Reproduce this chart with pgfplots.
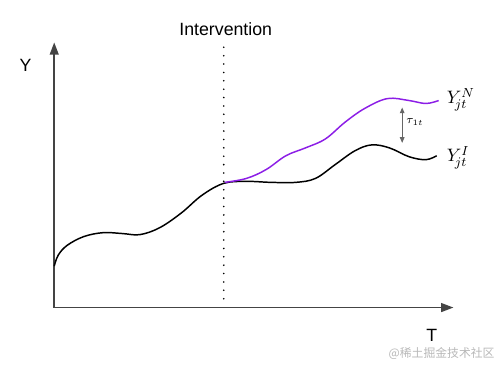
\documentclass[border=0pt]{standalone}
\usepackage{pgfplots}
\pgfplotsset{compat=1.18}
\usetikzlibrary{arrows.meta}
\usepackage{fontspec}
\setmainfont{Liberation Sans}
\newfontfamily\cjk{Noto Sans CJK SC}
\definecolor{axgray}{HTML}{444444}
\definecolor{violetline}{RGB}{140,30,230}
\begin{document}
\begin{tikzpicture}
\begin{axis}[
  scale only axis, width=300pt, height=221.4pt,
  xmin=0, xmax=500, ymin=0, ymax=369,
  hide axis, clip=false,
]
\path (axis cs:0,0) rectangle (axis cs:500,369);
% axes
\addplot[axgray, line width=1pt, -{Triangle[length=7.5pt,width=5.4pt]}] coordinates {(55,57) (55,326)};
\addplot[axgray, line width=1pt, -{Triangle[length=7.5pt,width=5.4pt]}] coordinates {(55,57) (460,57)};
% intervention line
\addplot[black, line width=1.1pt, line cap=round, dash pattern=on 0pt off 5.1pt] coordinates {(227,66) (227,322)};
% observed (black)
\addplot[black, line width=0.9pt, smooth, tension=0.6] coordinates {
(55,99) (59,110) (68,120) (85,129) (105,133) (125,132) (142,131)
(162,138) (184,153) (205,171) (227,183) (250,185) (275,184) (300,184)
(320,188) (340,202) (360,216) (377,222) (395,219) (415,210) (432,207) (443,211)};
% counterfactual (violet)
\addplot[violetline, line width=0.9pt, smooth, tension=0.6] coordinates {
(228,184) (250,188) (270,197) (290,211) (310,219) (330,228) (350,245)
(370,259) (393,269) (415,267) (432,264) (445,267)};
% tau arrow
\addplot[gray!80!black, line width=0.6pt, {Triangle[length=3.5pt,width=2.8pt]}-{Triangle[length=3.5pt,width=2.8pt]}] coordinates {(408,260) (408,224)};
% labels
\node[font=\fontsize{10.8}{13}\selectfont] at (axis cs:229,339) {Intervention};
\node[font=\fontsize{10.8}{13}\selectfont] at (axis cs:26,303) {Y};
\node[font=\fontsize{10.8}{13}\selectfont] at (axis cs:438,29) {T};
\node[anchor=west, inner sep=0pt, font=\fontsize{11}{12}\selectfont] at (axis cs:453,268) {$Y_{\!jt}^{N}$};
\node[anchor=west, inner sep=0pt, font=\fontsize{11}{12}\selectfont] at (axis cs:453,209) {$Y_{\!jt}^{I}$};
\node[anchor=west, inner sep=0pt, font=\fontsize{7.5}{9}\selectfont] at (axis cs:412,245) {$\tau_{1t}$};
\node[text=black!28, font=\cjk\fontsize{7.2}{8}\selectfont] at (axis cs:448,10) {@稀土掘金技术社区};
\end{axis}
\end{tikzpicture}
\end{document}
